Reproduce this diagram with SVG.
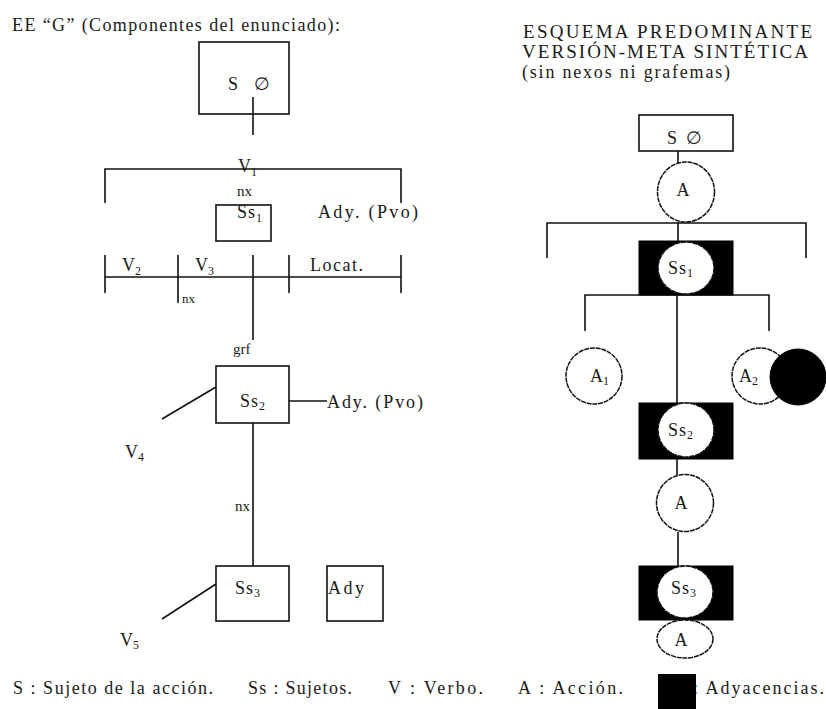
<svg xmlns="http://www.w3.org/2000/svg" width="826" height="709" viewBox="0 0 826 709">
<style>
text{font-size:18px;fill:#1a1a1a}
.sm{font-size:15px}
.sub{font-size:12px}
.ttl{font-size:19px}
.ln{stroke:#111;stroke-width:1.6;fill:none}
.box{stroke:#111;stroke-width:1.6;fill:#fff}
.blk{fill:#000;stroke:#000;stroke-width:1}
.cir{fill:#fff;stroke:#111;stroke-width:1.5;stroke-dasharray:5 0.8}
</style>
<rect width="826" height="709" fill="#fff"/>
<g font-family="Liberation Serif, serif">

<g id="titles">
<text x="12" y="31" textLength="328" lengthAdjust="spacing">EE “G”  (Componentes del enunciado):</text>
<text class="ttl" x="523" y="38" textLength="289" lengthAdjust="spacing">ESQUEMA PREDOMINANTE</text>
<text class="ttl" x="522" y="58" textLength="286" lengthAdjust="spacing">VERSIÓN-META SINTÉTICA</text>
<text x="522" y="78" textLength="208" lengthAdjust="spacing">(sin nexos ni grafemas)</text>
</g>

<g id="connectors">
<line class="ln" x1="253" y1="97" x2="253" y2="135"/>
<path class="ln" d="M105,203 V169 H401 V203"/>
<line class="ln" x1="105" y1="277" x2="401" y2="277"/>
<line class="ln" x1="105" y1="255" x2="105" y2="293"/>
<line class="ln" x1="178" y1="255" x2="178" y2="303"/>
<line class="ln" x1="289" y1="255" x2="289" y2="293"/>
<line class="ln" x1="401" y1="255" x2="401" y2="293"/>
<line class="ln" x1="253" y1="255" x2="253" y2="340"/>
<line class="ln" x1="289" y1="401" x2="327" y2="401"/>
<line class="ln" x1="216" y1="387" x2="162" y2="419"/>
<line class="ln" x1="253" y1="423" x2="253" y2="566"/>
<line class="ln" x1="216" y1="584" x2="162" y2="619"/>

<line class="ln" x1="678" y1="151" x2="678" y2="163"/>
<path class="ln" d="M547,258 V223 H806 V258"/>
<line class="ln" x1="678" y1="222" x2="678" y2="241"/>
<path class="ln" d="M585,331 V295 H769 V331"/>
<line class="ln" x1="677" y1="295" x2="677" y2="403"/>
<line class="ln" x1="677" y1="459" x2="677" y2="475"/>
<line class="ln" x1="678" y1="532" x2="678" y2="566"/>
</g>

<g id="L-S">
<rect class="box" x="199" y="42" width="90" height="72"/>
<line class="ln" x1="253" y1="97" x2="253" y2="114"/>
<text x="228" y="90" textLength="42" lengthAdjust="spacing">S ∅</text>
</g>
<g id="L-V1"><text x="238" y="172">V<tspan class="sub" dy="4">1</tspan></text></g>
<g id="L-nx1"><text class="sm" x="237" y="196">nx</text></g>
<g id="L-Ss1">
<rect class="box" x="216" y="205" width="55" height="36"/>
<text x="237" y="218" letter-spacing="1">Ss<tspan class="sub" dy="4">1</tspan></text>
</g>
<g id="L-Ady1"><text x="318" y="218" textLength="100" lengthAdjust="spacing">Ady. (Pvo)</text></g>
<g id="L-V2"><text x="122" y="271">V<tspan class="sub" dy="4">2</tspan></text></g>
<g id="L-V3"><text x="195" y="271">V<tspan class="sub" dy="4">3</tspan></text></g>
<g id="L-Locat"><text x="310" y="271" textLength="53" lengthAdjust="spacing">Locat.</text></g>
<g id="L-nx2"><text class="sm" x="182" y="303" style="font-size:13px">nx</text></g>
<g id="L-grf"><text class="sm" x="233" y="354">grf</text></g>
<g id="L-Ss2">
<rect class="box" x="216" y="366" width="73" height="57"/>
<text x="240" y="407" letter-spacing="1">Ss<tspan class="sub" dy="3">2</tspan></text>
</g>
<g id="L-Ady2"><text x="327" y="408" textLength="96" lengthAdjust="spacing">Ady. (Pvo)</text></g>
<g id="L-V4"><text x="125" y="458">V<tspan class="sub" dy="3">4</tspan></text></g>
<g id="L-nx3"><text class="sm" x="235" y="511">nx</text></g>
<g id="L-Ss3">
<rect class="box" x="216" y="566" width="73" height="55"/>
<text x="235" y="594" letter-spacing="1">Ss<tspan class="sub" dy="3">3</tspan></text>
</g>
<g id="L-Ady3">
<rect class="box" x="327" y="566" width="56" height="55"/>
<text x="328" y="594" textLength="36" lengthAdjust="spacing">Ady</text>
</g>
<g id="L-V5"><text x="120" y="646">V<tspan class="sub" dy="3">5</tspan></text></g>

<g id="R-S">
<rect class="box" x="639" y="115" width="94" height="36"/>
<text x="667" y="144" textLength="35" lengthAdjust="spacing">S ∅</text>
</g>
<g id="R-A1top">
<ellipse class="cir" cx="686" cy="192" rx="28.5" ry="30"/>
<text x="683" y="196" text-anchor="middle">A</text>
</g>
<g id="R-Ss1">
<rect class="blk" x="639" y="241" width="94" height="54"/>
<ellipse class="cir" cx="686" cy="268" rx="28" ry="26"/>
<text x="668" y="274" letter-spacing="1">Ss<tspan class="sub" dy="3">1</tspan></text>
</g>
<g id="R-A1">
<circle class="cir" cx="594" cy="376" r="28"/>
<text x="590" y="382">A<tspan class="sub" dy="3">1</tspan></text>
</g>
<g id="R-A2">
<circle class="cir" cx="760" cy="376" r="28"/>
<text x="739" y="382">A<tspan class="sub" dy="3">2</tspan></text>
<circle class="blk" cx="798" cy="377" r="28"/>
</g>
<g id="R-Ss2">
<rect class="blk" x="639" y="403" width="94" height="56"/>
<ellipse class="cir" cx="686" cy="430" rx="28" ry="27"/>
<text x="668" y="436" letter-spacing="1">Ss<tspan class="sub" dy="3">2</tspan></text>
</g>
<g id="R-A-mid">
<circle class="cir" cx="685" cy="503" r="28.5"/>
<text x="681" y="509" text-anchor="middle">A</text>
</g>
<g id="R-Ss3">
<rect class="blk" x="639" y="566" width="94" height="54"/>
<ellipse class="cir" cx="685" cy="592" rx="28" ry="26"/>
<text x="671" y="594" letter-spacing="1">Ss<tspan class="sub" dy="3">3</tspan></text>
</g>
<g id="R-A-bottom">
<ellipse class="cir" cx="685" cy="639" rx="28" ry="19"/>
<text x="681" y="646" text-anchor="middle">A</text>
</g>

<g id="legend">
<text x="13" y="694" textLength="200" lengthAdjust="spacing">S : Sujeto de la acción.</text>
<text x="248" y="694" textLength="104" lengthAdjust="spacing">Ss : Sujetos.</text>
<text x="388" y="694" textLength="95" lengthAdjust="spacing">V : Verbo.</text>
<text x="518" y="694" textLength="105" lengthAdjust="spacing">A : Acción.</text>
<text x="693" y="694" textLength="131" lengthAdjust="spacing">: Adyacencias.</text>
<rect x="658" y="674" width="38" height="35" fill="#000"/>
</g>
</g>
</svg>
